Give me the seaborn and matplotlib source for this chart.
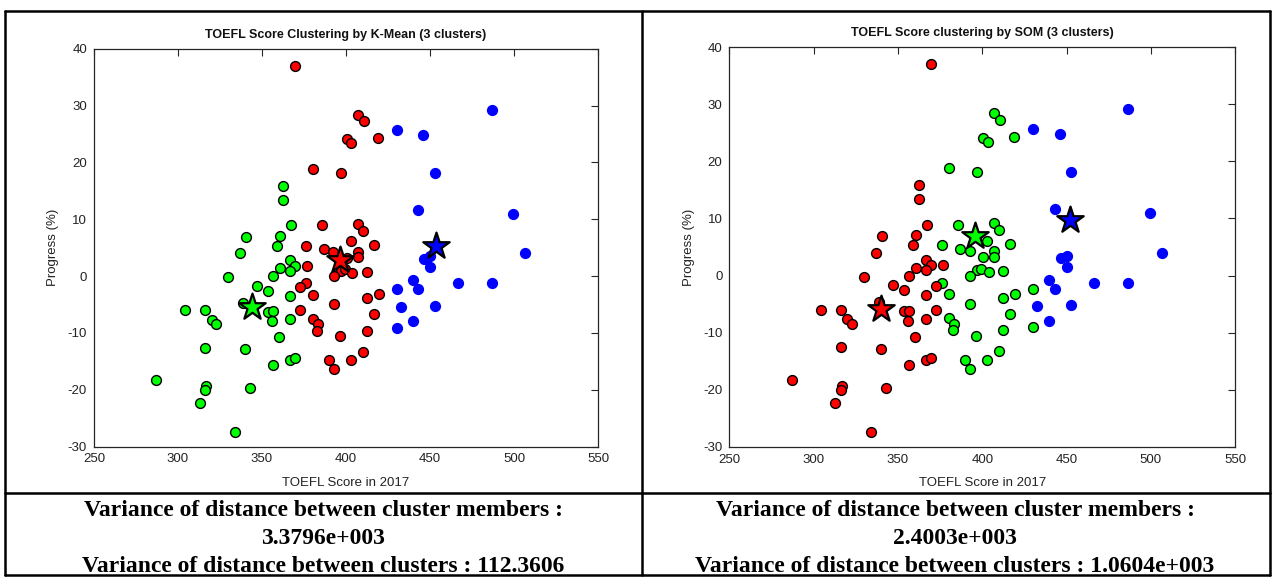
import matplotlib
matplotlib.use("Agg")
import matplotlib.pyplot as plt
from matplotlib.lines import Line2D
import seaborn as sns
import pandas as pd

# ---------------- data ----------------
toefl = [362.7, 362.7, 367.1, 340.7, 360.7, 358.7, 336.7, 366.9, 369.6, 366.9,
         360.7, 356.5, 329.6, 346.8, 353.4, 366.9, 338.5, 304.2, 315.9, 353.8,
         356.5, 356.0, 366.9, 320.0, 322.6, 360.1, 315.9, 339.9, 366.9, 369.6,
         356.5, 286.9, 316.7, 315.9, 342.9, 312.9, 333.8,
         369.8, 407.0, 410.5, 400.6, 403.2, 418.9, 380.2, 396.8, 385.7, 407.0,
         410.0, 402.8, 376.0, 416.5, 386.9, 392.5, 407.0, 407.0, 400.3, 376.6,
         396.8, 399.4, 403.8, 392.9, 412.3, 376.0, 372.6, 380.2, 392.9, 412.3,
         419.6, 372.6, 416.5, 380.2, 383.5, 382.9, 412.3, 396.4, 410.0, 389.7,
         403.0, 392.9,
         430.2, 446.0, 486.7, 452.8, 443.1, 499.4, 446.6, 450.0, 450.0, 506.7,
         439.7, 430.2, 443.1, 466.5, 486.7, 432.5, 452.8, 439.7, 430.2]
progress = [15.9, 13.4, 8.9, 6.9, 7.1, 5.3, 4.0, 2.8, 1.8, 0.9,
            1.35, 0.0, -0.2, -1.7, -2.6, -3.5, -4.7, -6.0, -6.0, -6.3,
            -6.2, -8.0, -7.6, -7.7, -8.5, -10.7, -12.6, -12.9, -14.8, -14.4,
            -15.7, -18.3, -19.3, -20.0, -19.7, -22.4, -27.5,
            37.0, 28.4, 27.2, 24.1, 23.4, 24.3, 18.8, 18.1, 8.9, 9.2,
            7.9, 6.1, 5.3, 5.5, 4.7, 4.3, 4.3, 3.3, 3.2, 1.8,
            0.9, 1.2, 0.6, 0.0, 0.77, -1.3, -1.9, -3.3, -5.0, -3.9,
            -3.2, -6.0, -6.7, -7.5, -8.5, -9.6, -9.6, -10.6, -13.3, -14.8,
            -14.8, -16.4,
            25.7, 24.8, 29.2, 18.1, 11.6, 11.0, 3.0, 3.5, 1.5, 4.0,
            -0.7, -2.3, -2.3, -1.3, -1.3, -5.4, -5.2, -7.9, -9.1]
kmeans_cluster = (["green"] * 37 + ["red"] * 42 + ["blue"] * 19)
som_cluster = (["red"] * 37 +
               ["red", "green", "green", "green", "green", "green", "green", "green", "green", "green",
                "green", "green", "green", "green", "green", "green", "green", "green", "green", "red",
                "green", "green", "green", "green", "green", "green", "red", "green", "green", "green",
                "green", "red", "green", "green", "green", "green", "green", "green", "green", "green",
                "green", "green"] +
               ["blue"] * 11 + ["green"] + ["blue"] * 6 + ["green"])

km_centroid_cluster = ["green", "red", "blue"]
km_centroid_x = [344.3, 396.4, 453.6]
km_centroid_y = [-5.4, 2.8, 5.2]
som_centroid_cluster = ["red", "green", "blue"]
som_centroid_x = [339.9, 395.9, 452.3]
som_centroid_y = [-5.8, 7.0, 9.8]

titles = ["TOEFL Score Clustering by K-Mean (3 clusters)",
          "TOEFL Score clustering by SOM (3 clusters)"]
x_label = "TOEFL Score in 2017"
y_label = "Progress (%)"
x_ticks = [250, 300, 350, 400, 450, 500, 550]
y_ticks = [-30, -20, -10, 0, 10, 20, 30, 40]
caption_left = ["Variance of distance between cluster members :",
                "3.3796e+003",
                "Variance of distance between clusters : 112.3606"]
caption_right = ["Variance of distance between cluster members :",
                 "2.4003e+003",
                 "Variance of distance between clusters : 1.0604e+003"]

# ---------------- styling ----------------
sns.set_style("white")
plt.rcParams["font.family"] = ["Liberation Sans", "DejaVu Sans"]
plt.rcParams["axes.unicode_minus"] = False

palette = {"red": "#FF0000", "green": "#00FF00", "blue": "#0000FF"}
edges = {"red": "black", "green": "black", "blue": "#0000FF"}

df = pd.DataFrame({"toefl": toefl, "progress": progress,
                   "kmeans": kmeans_cluster, "som": som_cluster})

W, H = 1274, 577
fig = plt.figure(figsize=(W / 100, H / 100), dpi=100)

ax_boxes = [(94, 598, 48.7, 446.5), (729.5, 1235, 47.3, 446.7)]
axes = []
for (x0, x1, yt, yb) in ax_boxes:
    ax = fig.add_axes([x0 / W, 1 - yb / H, (x1 - x0) / W, (yb - yt) / H])
    axes.append(ax)

panels = [(axes[0], "kmeans", km_centroid_cluster, km_centroid_x, km_centroid_y, titles[0]),
          (axes[1], "som", som_centroid_cluster, som_centroid_x, som_centroid_y, titles[1])]

for ax, col, cc, cx, cy, title in panels:
    for cl in ["green", "red", "blue"]:
        sub = df[df[col] == cl]
        sns.scatterplot(data=sub, x="toefl", y="progress", ax=ax,
                        color=palette[cl], edgecolor=edges[cl], linewidth=1.0,
                        s=50, legend=False, zorder=3)
    cdf = pd.DataFrame({"x": cx, "y": cy, "c": cc})
    for _, r in cdf.iterrows():
        sns.scatterplot(x=[r["x"]], y=[r["y"]], ax=ax, marker="*",
                        color=palette[r["c"]], edgecolor="black", linewidth=1.6,
                        s=400, legend=False, zorder=4)
    ax.set_xlim(250, 550)
    ax.set_ylim(-30, 40)
    ax.set_xticks(x_ticks)
    ax.set_yticks(y_ticks)
    ax.tick_params(direction="in", length=5, width=0.8, top=True, right=True,
                   labelsize=9.5, colors="#262626", pad=5)
    ax.tick_params(labelcolor="#222222")
    for sp in ax.spines.values():
        sp.set_color("#262626")
        sp.set_linewidth(0.9)
    ax.set_xlabel(x_label, fontsize=9.5, color="#222222", labelpad=8)
    ax.set_ylabel(y_label, fontsize=9.5, color="#222222", labelpad=6)
    ax.set_title(title, fontsize=9, fontweight="bold", color="#111111", pad=8)

# ---------------- table frame ----------------
def fline(x0, y0, x1, y1, lw=1.8):
    fig.add_artist(Line2D([x0 / W, x1 / W], [1 - y0 / H, 1 - y1 / H],
                          color="black", linewidth=lw))

fline(5, 11, 1270, 11)
fline(5, 575, 1270, 575)
fline(5, 11, 5, 575)
fline(1270, 11, 1270, 575)
fline(641.5, 11, 641.5, 575)
fline(5, 493, 1270, 493)

serif = ["Liberation Serif", "DejaVu Serif"]
for cx, lines in [(323, caption_left), (955, caption_right)]:
    for i, txt in enumerate(lines):
        fig.text(cx / W, 1 - (511 + 27.5 * i) / H, txt, ha="center", va="center",
                 fontsize=17, fontweight="bold", family=serif, color="black")

fig.savefig("out.png", dpi=100)
